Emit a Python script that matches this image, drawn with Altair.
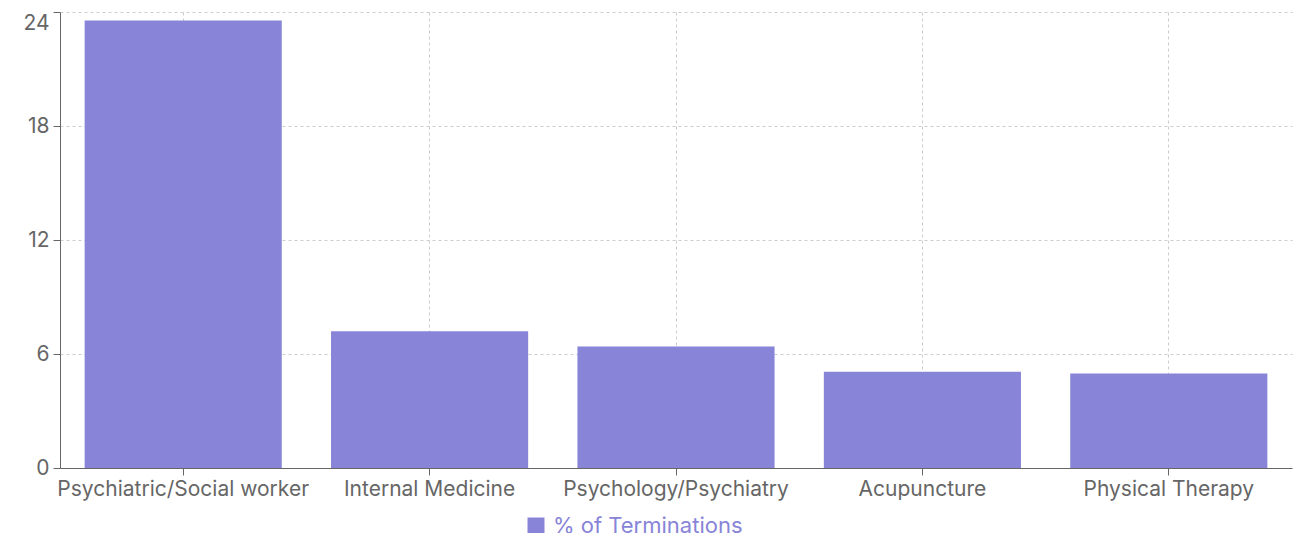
import altair as alt
import pandas as pd

categories = ["Psychiatric/Social worker", "Internal Medicine", "Psychology/Psychiatry", "Acupuncture", "Physical Therapy"]
values = [23.55, 7.2, 6.4, 5.07, 4.98]
series_name = "% of Terminations"
y_ticks = [0, 6, 12, 18, 24]

df = pd.DataFrame({"category": categories, "value": values, "series": [series_name] * len(categories)})

FONT = "Inter"
GRAY = "#666666"
PURPLE = "#8884d8"

chart = alt.Chart(df).mark_bar(color=PURPLE).encode(
    x=alt.X("category:N", sort=categories, title=None,
            scale=alt.Scale(paddingInner=0.2, paddingOuter=0.1),
            axis=alt.Axis(labelAngle=0, labelFontSize=21, labelColor=GRAY, labelFont=FONT,
                          labelLimit=0, labelPadding=3,
                          domainColor=GRAY, tickColor=GRAY, tickSize=7,
                          grid=True, gridColor="#cccccc", gridDash=[3, 3])),
    y=alt.Y("value:Q", title=None,
            scale=alt.Scale(domain=[0, 24], nice=False),
            axis=alt.Axis(values=y_ticks, labelFontSize=21, labelColor=GRAY, labelFont=FONT,
                          labelBaseline={"condition": {"test": "datum.value == 24", "value": "top"},
                                         "value": "middle"},
                          domainColor=GRAY, tickColor=GRAY, tickSize=7, labelPadding=4,
                          grid=True, gridColor="#cccccc", gridDash=[3, 3])),
    color=alt.Color("series:N", scale=alt.Scale(range=[PURPLE]),
                    legend=alt.Legend(title=None, orient="none", legendX=465, legendY=503,
                                      symbolType="square", symbolSize=289, symbolStrokeWidth=0,
                                      labelFontSize=22, labelColor=PURPLE, labelFont=FONT,
                                      labelOffset=6, labelLimit=0)),
).properties(
    width=1232, height=456,
    autosize=alt.AutoSizeParams(type="none"),
    padding={"left": 52, "top": 4, "right": 1, "bottom": 65},
).configure_view(stroke=None)

chart.save("out.html", embed_options={"renderer": "svg", "actions": False})
